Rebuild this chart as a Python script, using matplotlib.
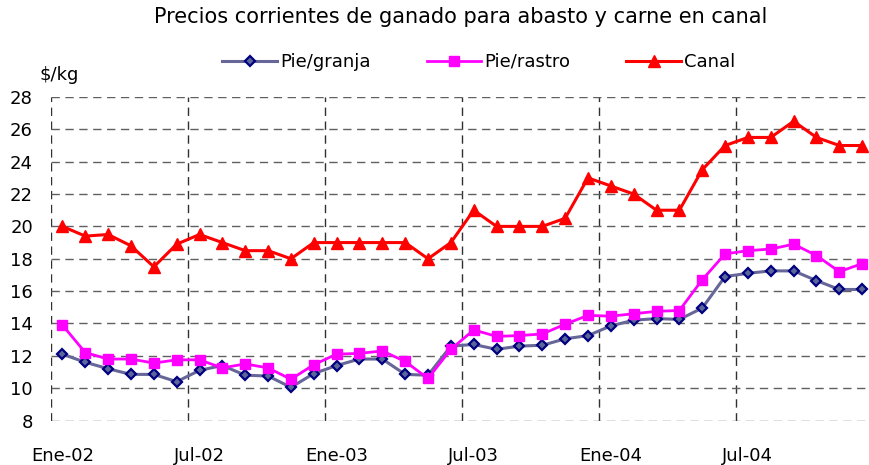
import numpy as np
import matplotlib
matplotlib.use("Agg")
import matplotlib.pyplot as plt

# monthly prices, Ene-02 .. Dic-04
pie_granja = [12.1, 11.6, 11.2, 10.85, 10.85, 10.4, 11.1, 11.4, 10.8, 10.75, 10.05, 10.9,
              11.4, 11.8, 11.8, 10.85, 10.8, 12.6, 12.7, 12.4, 12.6, 12.65, 13.05, 13.25,
              13.85, 14.2, 14.3, 14.25, 14.95, 16.9, 17.1, 17.25, 17.25, 16.65, 16.1, 16.1]
pie_rastro = [13.9, 12.2, 11.8, 11.8, 11.55, 11.75, 11.75, 11.25, 11.5, 11.25, 10.55, 11.45,
              12.1, 12.15, 12.3, 11.65, 10.6, 12.4, 13.6, 13.2, 13.25, 13.35, 13.95, 14.5,
              14.45, 14.6, 14.75, 14.8, 16.7, 18.3, 18.5, 18.6, 18.9, 18.2, 17.2, 17.7]
canal = [20.0, 19.4, 19.5, 18.8, 17.5, 18.9, 19.5, 19.0, 18.5, 18.5, 18.0, 19.0,
         19.0, 19.0, 19.0, 19.0, 18.0, 19.0, 21.0, 20.0, 20.0, 20.0, 20.5, 23.0,
         22.5, 22.0, 21.0, 21.0, 23.5, 25.0, 25.5, 25.5, 26.5, 25.5, 25.0, 25.0]
tick_labels = ["Ene-02", "Jul-02", "Ene-03", "Jul-03", "Ene-04", "Jul-04"]
y_ticks = list(range(8, 29, 2))

x = np.arange(len(canal))

fig = plt.figure(figsize=(8.7, 4.65), dpi=100)
ax = fig.add_axes([51/870, 44.5/465, 822.6/870, 323.5/465])

ax.plot(x, pie_granja, color="#666699", lw=2.2, marker="D", ms=5.5,
        mfc="#5c6699", mec="#000080", mew=1.6, label="Pie/granja", zorder=3)
ax.plot(x, pie_rastro, color="#ff00ff", lw=2.0, marker="s", ms=7,
        mfc="#ff00ff", mec="#ff00ff", label="Pie/rastro", zorder=3)
ax.plot(x, canal, color="#ff0000", lw=2.2, marker="^", ms=9,
        mfc="#ff0000", mec="#ff0000", label="Canal", zorder=4)

ax.set_xlim(-0.5, len(canal) - 0.5)
ax.set_ylim(8, 28)
ax.set_yticks(y_ticks)
ax.set_xticks(x[::6])
ax.set_xticklabels(tick_labels)
ax.set_xticks(np.arange(-0.5, len(canal), 6), minor=True)
ax.tick_params(axis="both", which="both", length=0, labelsize=13)
ax.tick_params(axis="x", pad=19)
ax.tick_params(axis="y", pad=13)

ax.grid(axis="y", which="major", color="#606060", lw=1.0, linestyle=(0, (6, 4)))
ax.grid(axis="x", which="minor", color="#303030", lw=1.0, linestyle=(0, (6, 4)))
ax.grid(axis="x", which="major", visible=False)
for s in ax.spines.values():
    s.set_visible(False)

fig.text(461/870, 1 - 17/465, "Precios corrientes de ganado para abasto y carne en canal",
         ha="center", va="center", fontsize=15)
fig.text(40/870, 1 - 75/465, "$/kg", ha="left", va="center", fontsize=13)

fig.legend(loc="center", bbox_to_anchor=(479/870, 1 - 62/465), ncol=3, frameon=False,
           fontsize=13, handlelength=3.0, handletextpad=0.2, columnspacing=3.1,
           numpoints=1)

fig.savefig("out.png", dpi=100)
